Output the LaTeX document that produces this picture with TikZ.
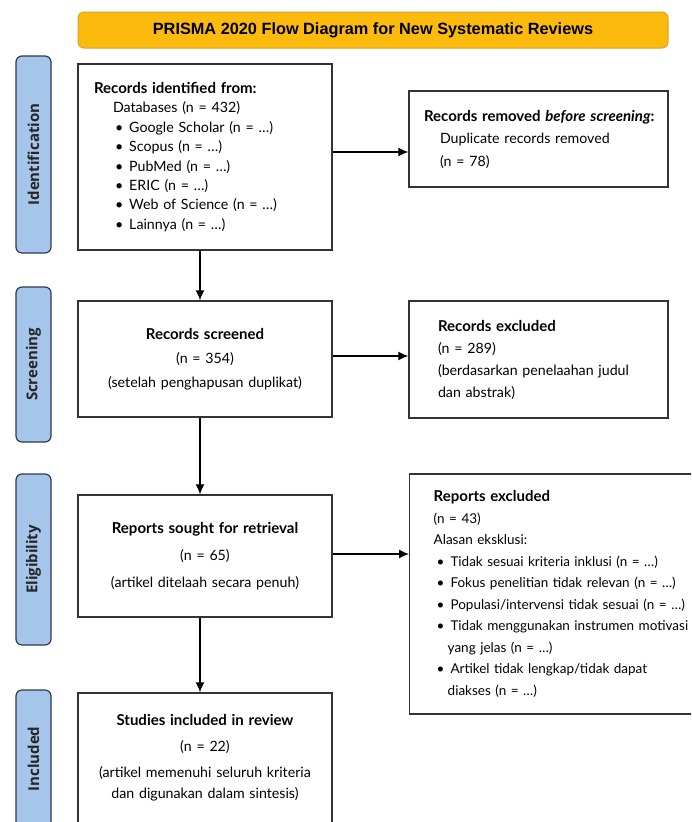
\documentclass[tikz,border=0pt]{standalone}
\usepackage{fontspec}
\setmainfont{Lato}
\newfontfamily\titlefont{Liberation Sans}
\newfontfamily\sidefont{Open Sans}
\usepackage{tikz}
\usetikzlibrary{arrows, arrows.meta, positioning}
\definecolor{prismaGold}{HTML}{FBBA0C}
\definecolor{prismaGoldLine}{HTML}{D9A030}
\definecolor{phaseBlue}{HTML}{A5C5EA}
\definecolor{phaseLine}{HTML}{2F3B4C}
\definecolor{boxLine}{HTML}{333333}
\tikzstyle{flowBox} = [draw=boxLine, line width=1.4pt, rectangle, fill=white, inner ysep=0pt]
\tikzstyle{phaseLabel} = [draw=phaseLine, line width=1.2pt, rectangle, rounded corners=6pt,
   fill=phaseBlue, rotate=90, minimum height=35pt, inner sep=0pt,
   font=\sidefont\bfseries\fontsize{15}{17}\selectfont, text=black!85]
\tikzstyle{flowArrow} = [line width=1.3pt, -{Latex[length=10pt, width=9pt]}, draw=black]
\newcommand{\bul}{\hspace*{3pt}\textbullet\hspace{6pt}}
\newcommand{\hang}{\hspace*{14pt}}
\newcommand{\head}[1]{\mbox{\fontsize{15}{15}\selectfont\textbf{#1}}}

\begin{document}
\begin{tikzpicture}[x=1pt, y=-1pt]
  \useasboundingbox (0,0) rectangle (691,822);
  \clip (0,0) rectangle (691,822);

  % title bar
  \node[draw=prismaGoldLine, line width=1pt, fill=prismaGold, rounded corners=6pt,
        minimum width=590pt, minimum height=36pt,
        font=\titlefont\bfseries\fontsize{16.3}{19}\selectfont] (title) at (373,30)
        {PRISMA 2020 Flow Diagram for New Systematic Reviews};

  % phase labels
  \node[phaseLabel, minimum width=197pt] (lblId) at (33.5,154.5) {Identification};
  \node[phaseLabel, minimum width=155pt] (lblScr) at (33.5,364.5) {Screening};
  \node[phaseLabel, minimum width=171pt] (lblElig) at (33.5,559.5) {Eligibility};
  \node[phaseLabel, minimum width=138pt] (lblIncl) at (33.5,759) {Included};

  % left column
  \node[flowBox, minimum width=254pt, minimum height=186pt, inner xsep=16pt,
        text width=222pt, align=left, font=\fontsize{14.2}{19.4}\selectfont] (recId) at (205,157)
        {\head{Records identified from:}\\
         \hspace*{19pt}Databases (n = 432)\\
         \hspace*{18pt}\bul Google Scholar (n = …)\\
         \hspace*{18pt}\bul Scopus (n = …)\\
         \hspace*{18pt}\bul PubMed (n = …)\\
         \hspace*{18pt}\bul ERIC (n = …)\\
         \hspace*{18pt}\bul Web of Science (n = …)\\
         \hspace*{18pt}\bul Lainnya (n = …)};
  \node[flowBox, minimum width=254pt, minimum height=116pt, text width=240pt,
        align=center, font=\fontsize{14.2}{24}\selectfont] (scrBox) at (205,359)
        {\head{Records screened}\\ (n = 354)\\ (setelah penghapusan duplikat)};
  \node[flowBox, minimum width=254pt, minimum height=122pt, text width=240pt,
        align=center, font=\fontsize{14.2}{27}\selectfont] (soughtBox) at (205,556)
        {\head{Reports sought for retrieval}\\ (n = 65)\\ (artikel ditelaah secara penuh)};
  \node[flowBox, minimum width=254pt, minimum height=130pt, text width=240pt,
        align=center, font=\fontsize{14.2}{21}\selectfont] (inclBox) at (205,758)
        {\head{Studies included in review}\\[5pt] (n = 22)\\[5pt] (artikel memenuhi seluruh kriteria\\ dan digunakan dalam sintesis)};

  % right column
  \node[flowBox, minimum width=259pt, minimum height=96pt, inner xsep=15pt,
        text width=229pt, align=left, font=\fontsize{14.2}{22.5}\selectfont] (remBox) at (538.5,139)
        {\head{Records removed \textit{before screening}:}\\
         \hspace*{16pt}Duplicate records removed\\
         \hspace*{16pt}(n = 78)};
  \node[flowBox, minimum width=259pt, minimum height=117pt, inner xsep=29pt,
        text width=201pt, align=left, font=\fontsize{14.2}{22}\selectfont] (excBox) at (538.5,359.5)
        {\head{Records excluded}\\
         (n = 289)\\
         (berdasarkan penelaahan judul\\
         dan abstrak)};
  \node[flowBox, anchor=west, minimum height=240pt, inner xsep=24pt,
        text width=280pt, align=left, font=\fontsize{13.5}{21.5}\selectfont] (repExc) at (409,594)
        {\head{Reports excluded}\\
         (n = 43)\\
         Alasan eksklusi:\\
         \bul Tidak sesuai kriteria inklusi (n = …)\\
         \bul Fokus penelitian tidak relevan (n = …)\\
         \bul Populasi/intervensi tidak sesuai (n = …)\\
         \bul Tidak menggunakan instrumen motivasi\\
         \hang yang jelas (n = …)\\
         \bul Artikel tidak lengkap/tidak dapat\\
         \hang diakses (n = …)};

  % arrows down the left column
  \draw[flowArrow] ([xshift=-5pt]recId.south) to ([xshift=-5pt]scrBox.north);
  \draw[flowArrow] ([xshift=-5pt]scrBox.south) to ([xshift=-5pt]soughtBox.north);
  \draw[flowArrow] ([xshift=-5pt]soughtBox.south) to ([xshift=-5pt]inclBox.north);

  % arrows to the exclusion boxes
  \draw[flowArrow] ([yshift=5pt]recId.east) to ([yshift=5pt]recId.east -| remBox.west);
  \draw[flowArrow] ([yshift=3pt]scrBox.east) to ([yshift=3pt]scrBox.east -| excBox.west);
  \draw[flowArrow] ([yshift=2pt]soughtBox.east) to ([yshift=2pt]soughtBox.east -| repExc.west);
\end{tikzpicture}
\end{document}
